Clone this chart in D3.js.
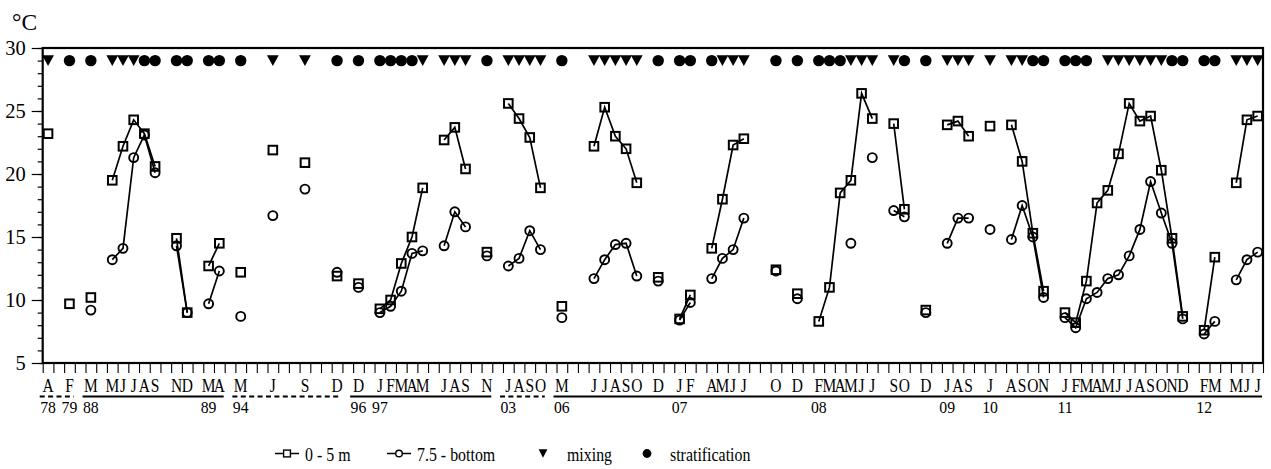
<!DOCTYPE html>
<html>
<head>
<meta charset="utf-8">
<script src="https://cdn.jsdelivr.net/npm/d3@7"></script>
<style>
  body { margin: 0; background: #fff; }
  svg { display: block; }
  svg text { font-family: "Liberation Serif", "Times New Roman", Times, "DejaVu Serif", serif; fill: #000; }
</style>
</head>
<body>
<svg id="chart" width="1271" height="469"></svg>
<script>
// One slot per sampling date on the categorical time axis; "" / null mark empty slots.
const months = [
  "A","","F","","M","","M","J","J","A",
  "S","","N","D","","M","A","","M","",
  "","J","","","S","","","D","","D",
  "","J","F","M","A","M","","J","A","S",
  "","N","","J","A","S","O","","M","",
  "","J","J","A","S","O","","D","","J",
  "F","","A","M","J","J","","","O","",
  "D","","F","M","A","M","J","J","","S",
  "O","","D","","J","A","S","","J","",
  "A","S","O","N","","J","F","M","A","M",
  "J","J","A","S","O","N","D","","F","M",
  "","M","J","J"
];

// Water temperature, 0 - 5 m layer (°C)
const surface = [
  23.2,null,9.7,null,10.2,null,19.5,22.2,24.3,23.2,
  20.6,null,14.9,9.0,null,12.7,14.5,null,12.2,null,
  null,21.9,null,null,20.9,null,null,11.9,null,11.3,
  null,9.3,10.0,12.9,15.0,18.9,null,22.7,23.7,20.4,
  null,13.8,null,25.6,24.4,22.9,18.9,null,9.5,null,
  null,22.2,25.3,23.0,22.0,19.3,null,11.8,null,8.5,
  10.4,null,14.1,18.0,22.3,22.8,null,null,12.4,null,
  10.5,null,8.3,11.0,18.5,19.5,26.4,24.4,null,24.0,
  17.2,null,9.2,null,23.9,24.2,23.0,null,23.8,null,
  23.9,21.0,15.3,10.7,null,9.0,8.2,11.5,17.7,18.7,
  21.6,25.6,24.2,24.6,20.3,14.9,8.7,null,7.6,13.4,
  null,19.3,24.3,24.6
];

// Water temperature, 7.5 m - bottom layer (°C)
const bottom = [
  null,null,null,null,9.2,null,13.2,14.1,21.3,23.1,
  20.1,null,14.3,9.0,null,9.7,12.3,null,8.7,null,
  null,16.7,null,null,18.8,null,null,12.2,null,11.0,
  null,9.0,9.5,10.7,13.7,13.9,null,14.3,17.0,15.8,
  null,13.5,null,12.7,13.3,15.5,14.0,null,8.6,null,
  null,11.7,13.2,14.4,14.5,11.9,null,11.5,null,8.4,
  9.8,null,11.7,13.3,14.0,16.5,null,null,12.3,null,
  10.1,null,null,null,null,14.5,null,21.3,null,17.1,
  16.6,null,9.0,null,14.5,16.5,16.5,null,15.6,null,
  14.8,17.5,15.0,10.2,null,8.6,7.8,10.1,10.6,11.7,
  12.0,13.5,15.6,19.4,16.9,14.5,8.5,null,7.3,8.3,
  null,11.6,13.2,13.8
];

// Water column state: "m" = mixing, "s" = stratification
const regime = [
  "m",null,"s",null,"s",null,"m","m","m","s",
  "s",null,"s","s",null,"s","s",null,"s",null,
  null,"m",null,null,"m",null,null,"s",null,"s",
  null,"s","s","s","s","m",null,"m","m","m",
  null,"s",null,"m","m","m","m",null,"s",null,
  null,"m","m","m","m","m",null,"s",null,"s",
  "s",null,"s","m","m","m",null,null,"s",null,
  "s",null,"s","s","s","m","m","m",null,"m",
  "s",null,"s",null,"m","m","m",null,"m",null,
  "m","m","s","s",null,"s","s","s",null,"m",
  "m","m","m","m","m","s","s",null,"s","s",
  null,"m","m","m"
];

// Year labels: first slot of each year
const yearSlots  = [0, 2, 4, 15, 18, 29, 31, 43, 48, 59, 72, 84, 88, 95, 108];
const yearLabels = ["78","79","88","89","94","96","97","03","06","07","08","09","10","11","12"];

// Underlines grouping the sampling campaigns: [first slot, last slot, dashed]
const campaigns = [[0, 2, true], [4, 16, false], [18, 27, true], [29, 41, false], [43, 46, true], [48, 113, false]];

const yMajor = [5, 10, 15, 20, 25, 30];
const yMinor = d3.range(5, 31, 1);

const legendItems = [
  { kind: "surface", label: "0 - 5 m" },
  { kind: "bottom", label: "7.5 - bottom" },
  { kind: "m", label: "mixing" },
  { kind: "s", label: "stratification" }
];

// ---------------------------------------------------------------------------
const FONT = '"Liberation Serif", "Times New Roman", Times, "DejaVu Serif", serif';
const svg = d3.select("#chart").attr("font-family", FONT);
const plot = { left: 42.7, right: 1263, top: 48, bottom: 363 };

const x = d3.scaleBand().domain(d3.range(months.length)).range([plot.left, plot.right]).padding(0);
const xEdge = d3.scaleLinear().domain([0, months.length]).range([plot.left, plot.right]);
const y = d3.scaleLinear().domain([5, 30]).range([plot.bottom, plot.top]);
const cx = i => x(i) + x.bandwidth() / 2;

// Y axis: minor ticks each degree, labelled major ticks every 5 degrees
const yMinorAxis = svg.append("g").attr("transform", `translate(${plot.left},0)`)
  .call(d3.axisLeft(y).tickValues(yMinor).tickSize(5).tickFormat(""));
const yMajorAxis = svg.append("g").attr("transform", `translate(${plot.left},0)`)
  .call(d3.axisLeft(y).tickValues(yMajor).tickSize(11).tickPadding(5).tickFormat(d3.format("d")));
[yMinorAxis, yMajorAxis].forEach(g => {
  g.attr("font-family", FONT);
  g.select(".domain").remove();
  g.selectAll("line").attr("stroke", "#000").attr("stroke-width", 1.2);
});
yMajorAxis.selectAll("text")
  .attr("font-family", FONT).style("font-family", FONT)
  .style("font-size", "20.5px").attr("fill", "#000").attr("dx", "-1").attr("dy", "0.34em");

// X axis: tick at every slot boundary
const xAxis = svg.append("g").attr("transform", `translate(0,${plot.bottom})`)
  .call(d3.axisBottom(xEdge).tickValues(d3.range(months.length + 1)).tickSize(10).tickFormat(""));
xAxis.select(".domain").remove();
xAxis.selectAll("line").attr("stroke", "#000").attr("stroke-width", 1.1);

// Frame
svg.append("rect")
  .attr("x", plot.left).attr("y", plot.top)
  .attr("width", plot.right - plot.left).attr("height", plot.bottom - plot.top)
  .attr("fill", "none").attr("stroke", "#000").attr("stroke-width", 2.2);

// Unit label
svg.append("text").attr("x", 12).attr("y", 29.5).attr("font-family", FONT)
  .style("font-size", "23.5px").text("°C");

// Month letters
const monthG = svg.append("g").attr("font-family", FONT);
months.forEach((m, i) => {
  if (!m) return;
  monthG.append("text")
    .attr("transform", `translate(${cx(i)},392) scale(0.86,1)`)
    .attr("text-anchor", "middle").style("font-size", "18px").text(m);
});

// Campaign underlines
svg.append("g").selectAll("line").data(campaigns).join("line")
  .attr("x1", d => x(d[0]) - 3)
  .attr("x2", d => x(d[1]) + x.bandwidth() - 1)
  .attr("y1", 396.5).attr("y2", 396.5)
  .attr("stroke", "#000").attr("stroke-width", 2)
  .attr("stroke-dasharray", d => d[2] ? "5,3.4" : null);

// Year labels
svg.append("g").attr("font-family", FONT).selectAll("text").data(yearSlots).join("text")
  .attr("transform", (d) => `translate(${cx(d)},412.5) scale(0.9,1)`)
  .attr("text-anchor", "middle").style("font-size", "17.5px")
  .text((d, i) => yearLabels[i]);

// Temperature series
const lineGen = values => d3.line()
  .defined(i => values[i] != null)
  .x(i => cx(i)).y(i => y(values[i]))(d3.range(values.length));

const slots = d3.range(months.length);
const sq = 8.6, cr = 4.5;

svg.append("path").attr("d", lineGen(bottom))
  .attr("fill", "none").attr("stroke", "#000").attr("stroke-width", 1.7);
svg.append("path").attr("d", lineGen(surface))
  .attr("fill", "none").attr("stroke", "#000").attr("stroke-width", 1.7);

svg.append("g").selectAll("circle").data(slots.filter(i => bottom[i] != null)).join("circle")
  .attr("cx", i => cx(i)).attr("cy", i => y(bottom[i])).attr("r", cr)
  .attr("fill", "none").attr("stroke", "#000").attr("stroke-width", 1.9);
svg.append("g").selectAll("rect").data(slots.filter(i => surface[i] != null)).join("rect")
  .attr("x", i => cx(i) - sq / 2).attr("y", i => y(surface[i]) - sq / 2)
  .attr("width", sq).attr("height", sq)
  .attr("fill", "none").attr("stroke", "#000").attr("stroke-width", 2);

// Mixing / stratification row, drawn at the 29 °C level
const markY = y(29);
const downTri = (w, h) => `M${-w / 2},${-h / 2}L${w / 2},${-h / 2}L0,${h / 2}Z`;
const markG = svg.append("g");
slots.forEach(i => {
  if (regime[i] === "m") {
    markG.append("path").attr("d", downTri(11.8, 10.8))
      .attr("transform", `translate(${cx(i)},${markY})`).attr("fill", "#000");
  } else if (regime[i] === "s") {
    markG.append("circle").attr("cx", cx(i)).attr("cy", markY).attr("r", 5.7).attr("fill", "#000");
  }
});

// Legend
const legendY = 453.5;
const legendX = [275, 387, 537, 641];
const legendTextX = [305, 417, 567, 670];
const lg = svg.append("g").attr("font-family", FONT);
legendItems.forEach((item, k) => {
  const x0 = legendX[k];
  if (item.kind === "surface" || item.kind === "bottom") {
    lg.append("line").attr("x1", x0).attr("x2", x0 + 24).attr("y1", legendY).attr("y2", legendY)
      .attr("stroke", "#000").attr("stroke-width", 1.5);
    if (item.kind === "surface") {
      lg.append("rect").attr("x", x0 + 12 - 3.4).attr("y", legendY - 3.4).attr("width", 6.8).attr("height", 6.8)
        .attr("fill", "#fff").attr("stroke", "#000").attr("stroke-width", 1.4);
    } else {
      lg.append("circle").attr("cx", x0 + 12).attr("cy", legendY).attr("r", 3.3)
        .attr("fill", "#fff").attr("stroke", "#000").attr("stroke-width", 1.4);
    }
  } else if (item.kind === "m") {
    lg.append("path").attr("d", downTri(8.8, 8.4))
      .attr("transform", `translate(${x0 + 6},${legendY})`).attr("fill", "#000");
  } else {
    lg.append("circle").attr("cx", x0 + 6).attr("cy", legendY).attr("r", 4.4).attr("fill", "#000");
  }
  lg.append("text")
    .attr("transform", `translate(${legendTextX[k]},460.5) scale(0.86,1)`)
    .style("font-size", "18.5px").text(item.label);
});
</script>
</body>
</html>
